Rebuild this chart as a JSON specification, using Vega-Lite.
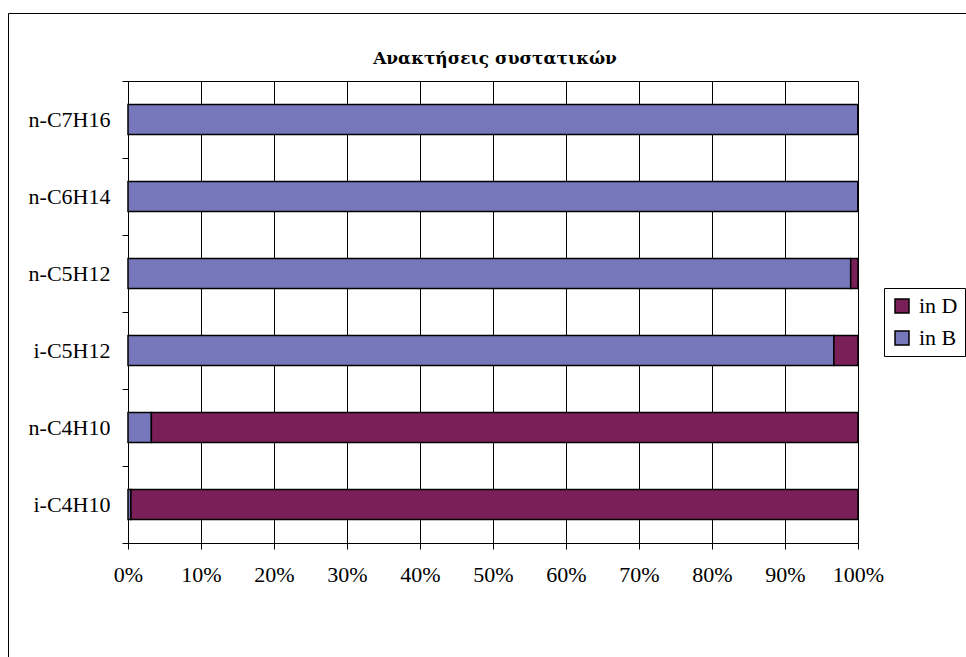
{
  "$schema": "https://vega.github.io/schema/vega-lite/v6.json",
  "autosize": {"type": "none"},
  "padding": {"left": 8, "top": 13, "right": -3, "bottom": -3},
  "width": 961,
  "height": 647,
  "background": "white",
  "title": {
    "text": "Ανακτήσεις συστατικών",
    "font": "DejaVu Serif",
    "fontSize": 17,
    "fontWeight": "bold",
    "color": "black",
    "anchor": "middle",
    "frame": "group",
    "orient": "top",
    "baseline": "alphabetic",
    "offset": 0,
    "dx": 6.5,
    "dy": 79
  },
  "data": {
    "values": [
      {"component": "n-C7H16", "series": "in B", "pct": 100},
      {"component": "n-C7H16", "series": "in D", "pct": 0},
      {"component": "n-C6H14", "series": "in B", "pct": 100},
      {"component": "n-C6H14", "series": "in D", "pct": 0},
      {"component": "n-C5H12", "series": "in B", "pct": 99.0},
      {"component": "n-C5H12", "series": "in D", "pct": 1.0},
      {"component": "i-C5H12", "series": "in B", "pct": 96.7},
      {"component": "i-C5H12", "series": "in D", "pct": 3.3},
      {"component": "n-C4H10", "series": "in B", "pct": 3.2},
      {"component": "n-C4H10", "series": "in D", "pct": 96.8},
      {"component": "i-C4H10", "series": "in B", "pct": 0.4},
      {"component": "i-C4H10", "series": "in D", "pct": 99.6}
    ]
  },
  "encoding": {
    "y": {
      "field": "component",
      "type": "nominal",
      "sort": ["n-C7H16", "n-C6H14", "n-C5H12", "i-C5H12", "n-C4H10", "i-C4H10"],
      "scale": {"range": [68, 530], "paddingInner": 0, "paddingOuter": 0},
      "axis": {
        "title": null,
        "orient": "left",
        "offset": -120,
        "tickBand": "extent",
        "tickSize": 6,
        "tickColor": "black",
        "domainColor": "black",
        "labelFont": "Liberation Serif",
        "labelFontSize": 22,
        "labelColor": "black",
        "labelPadding": 12,
        "grid": false
      }
    },
    "color": {
      "field": "series",
      "type": "nominal",
      "scale": {"domain": ["in D", "in B"], "range": ["#7B1F58", "#7777BB"]},
      "legend": {
        "title": null,
        "orient": "none",
        "legendX": 876,
        "legendY": 275,
        "strokeColor": "black",
        "padding": 7,
        "symbolType": "square",
        "symbolSize": 196,
        "symbolStrokeColor": "black",
        "symbolStrokeWidth": 1.5,
        "labelFont": "Liberation Serif",
        "labelFontSize": 22,
        "labelColor": "black",
        "labelOffset": 6,
        "rowPadding": 10
      }
    },
    "order": {"field": "series", "sort": "ascending"}
  },
  "layer": [
    {
      "mark": {"type": "bar", "opacity": 0, "height": {"band": 0.39}},
      "encoding": {
        "x": {
          "field": "pct",
          "type": "quantitative",
          "stack": "normalize",
          "scale": {"domain": [0, 1], "range": [120, 850], "nice": false},
          "axis": {
            "orient": "top",
            "offset": -68,
            "title": null,
            "grid": true,
            "gridColor": "black",
            "gridOpacity": 1,
            "gridWidth": 1,
            "labels": false,
            "ticks": false,
            "domain": true,
            "domainColor": "black",
            "values": [0, 0.1, 0.2, 0.3, 0.4, 0.5, 0.6, 0.7, 0.8, 0.9, 1]
          }
        }
      }
    },
    {
      "mark": {"type": "bar", "stroke": "black", "strokeWidth": 1.5, "height": {"band": 0.39}},
      "encoding": {
        "x": {
          "field": "pct",
          "type": "quantitative",
          "stack": "normalize",
          "scale": {"domain": [0, 1], "range": [120, 850], "nice": false},
          "axis": {
            "orient": "bottom",
            "offset": -117,
            "title": null,
            "grid": false,
            "values": [0, 0.1, 0.2, 0.3, 0.4, 0.5, 0.6, 0.7, 0.8, 0.9, 1],
            "format": ".0%",
            "labelFont": "Liberation Serif",
            "labelFontSize": 22,
            "labelColor": "black",
            "labelPadding": 15,
            "labelFlush": false,
            "labelOverlap": false,
            "tickSize": 6,
            "tickColor": "black",
            "domainColor": "black"
          }
        }
      }
    }
  ],
  "resolve": {"axis": {"x": "independent"}},
  "config": {"view": {"stroke": "black", "strokeWidth": 1}}
}
